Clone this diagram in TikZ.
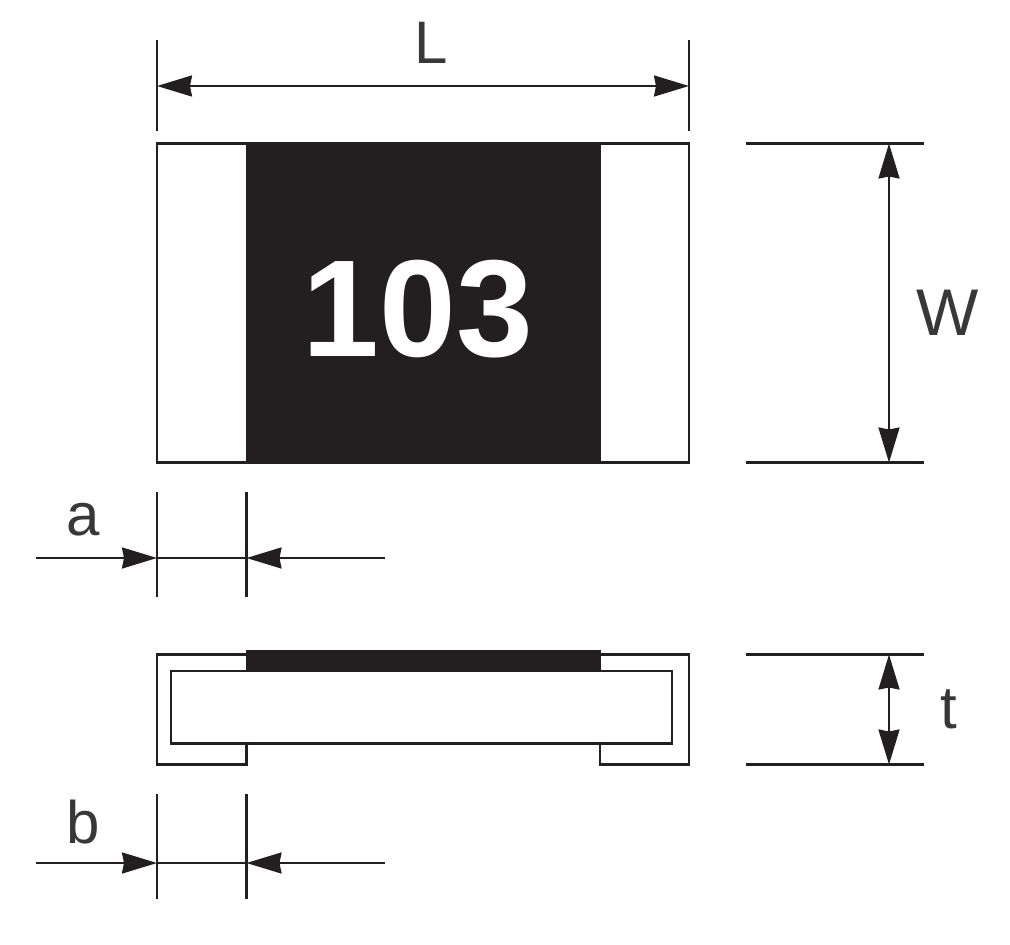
\documentclass[tikz,border=0pt]{standalone}
\usepackage{fontspec}
\setmainfont{Liberation Sans}
\usetikzlibrary{arrows.meta}
\definecolor{ink}{HTML}{231F20}
\tikzset{
  x=1pt,y=-1pt,
  ln/.style={line width=2.1pt,ink},
  hd/.tip={Stealth[length=35pt,width=21pt,inset=2pt,ink]},
  dim/.style={ln,hd-hd},
  tipr/.style={ln,-hd},
  lbl/.style={font=\fontsize{60}{60}\selectfont,text=black!78,inner sep=0pt,outer sep=0pt},
}
\begin{document}
\begin{tikzpicture}
\useasboundingbox (0,0) rectangle (1010,945);
% top view
\node[draw=ink,line width=2.1pt,outer sep=0pt,minimum width=532pt,minimum height=319pt,inner sep=0pt,anchor=north west] (body) at (157,143.5) {};
\node[fill=ink,outer sep=0pt,minimum width=355pt,minimum height=319pt,inner sep=0pt,anchor=north west] (mark) at (246,143.5) {};
\node[font=\bfseries\fontsize{138}{138}\selectfont,text=white,inner sep=0pt] (code) at (418,309) {103};
% L
\coordinate (l1a) at (157,40); \coordinate (l1b) at (157,131);
\coordinate (l2a) at (689,40); \coordinate (l2b) at (689,131);
\coordinate (la) at (157,86); \coordinate (lb) at (689,86);
\draw[ln] (l1a)--(l1b); \draw[ln] (l2a)--(l2b);
\draw[dim] (la)--(lb);
\node[lbl] (L) at (431,43) {L};
% W
\coordinate (w1a) at (746,143.5); \coordinate (w1b) at (924,143.5);
\coordinate (w2a) at (746,462.5); \coordinate (w2b) at (924,462.5);
\coordinate (wa) at (889,143.5); \coordinate (wb) at (889,462.5);
\draw[ln] (w1a)--(w1b); \draw[ln] (w2a)--(w2b);
\draw[dim] (wa)--(wb);
\node[lbl,font=\fontsize{66}{66}\selectfont] (W) at (948,313) {W};
% a
\coordinate (a1a) at (157,492); \coordinate (a1b) at (157,597);
\coordinate (a2a) at (246.5,492); \coordinate (a2b) at (246.5,597);
\coordinate (ar0) at (36,558); \coordinate (ar1) at (157,558);
\coordinate (al0) at (385,558); \coordinate (al1) at (246.5,558);
\draw[ln] (a1a)--(a1b); \draw[ln] (a2a)--(a2b); \draw[ln] (ar1)--(a2b|-ar1);
\draw[tipr] (ar0)--(ar1); \draw[tipr] (al0)--(al1);
\node[lbl] (a) at (83,520) {a};
% side view
\draw[ln] (246.5,654.5) -- (157,654.5) -- (157,764.5) -- (246.5,764.5) -- (246.5,743.5);
\draw[ln] (601,654.5) -- (689,654.5) -- (689,764.5) -- (600,764.5) -- (600,743.5);
\draw[ln] (171,671) rectangle (672,743.5);
\node[fill=ink,outer sep=0pt,minimum width=355pt,minimum height=22pt,inner sep=0pt,anchor=north west] (film) at (246,650) {};
% t
\coordinate (t1a) at (746,654.5); \coordinate (t1b) at (924,654.5);
\coordinate (t2a) at (746,764.5); \coordinate (t2b) at (924,764.5);
\coordinate (ta) at (889,654.5); \coordinate (tb) at (889,764.5);
\draw[ln] (t1a)--(t1b); \draw[ln] (t2a)--(t2b);
\draw[dim] (ta)--(tb);
\node[lbl] (t) at (949,709) {t};
% b
\coordinate (b1a) at (157,794); \coordinate (b1b) at (157,899);
\coordinate (b2a) at (246.5,794); \coordinate (b2b) at (246.5,899);
\coordinate (br0) at (36,863); \coordinate (br1) at (157,863);
\coordinate (bl0) at (385,863); \coordinate (bl1) at (246.5,863);
\draw[ln] (b1a)--(b1b); \draw[ln] (b2a)--(b2b); \draw[ln] (br1)--(b2b|-br1);
\draw[tipr] (br0)--(br1); \draw[tipr] (bl0)--(bl1);
\node[lbl] (b) at (83,822) {b};
\end{tikzpicture}
\end{document}
